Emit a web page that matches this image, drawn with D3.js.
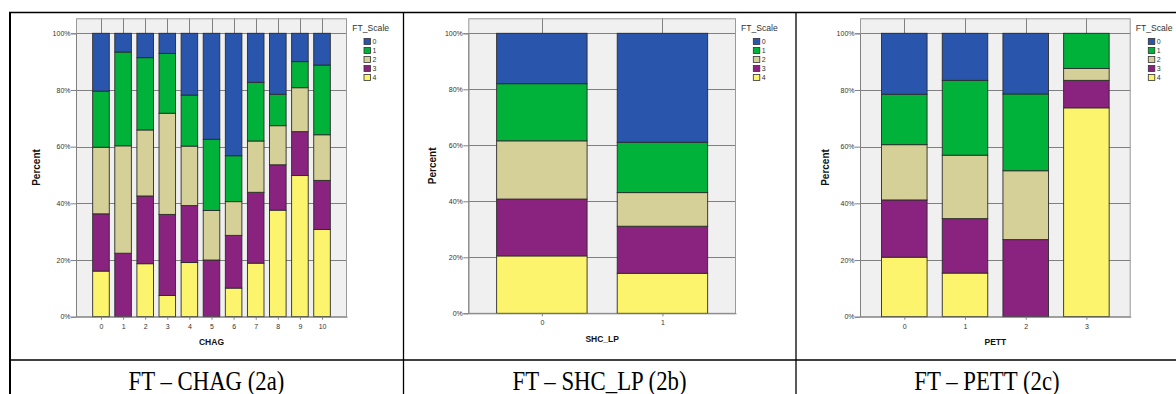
<!DOCTYPE html>
<html>
<head>
<meta charset="utf-8">
<script src="https://cdn.jsdelivr.net/npm/d3@7"></script>
<style>
  html, body { margin: 0; padding: 0; background: #fff; }
  svg { display: block; }
</style>
</head>
<body>
<svg id="chart" width="1176" height="394"></svg>
<script>
// ---------------- DATA ----------------
const scaleKeys = ["0", "1", "2", "3", "4"];
const yTicks = [0, 20, 40, 60, 80, 100];

const chagCats = ["0", "1", "2", "3", "4", "5", "6", "7", "8", "9", "10"];
const chagScale0 = [20.4, 6.6, 8.6, 7.1, 21.8, 37.4, 43.2, 17.3, 21.5, 10.0, 11.2];
const chagScale1 = [19.8, 33.1, 25.5, 21.1, 18.0, 25.1, 16.2, 20.7, 11.1, 9.2, 24.6];
const chagScale2 = [23.5, 37.9, 23.3, 35.7, 21.0, 17.5, 11.9, 18.1, 13.8, 15.5, 16.1];
const chagScale3 = [20.2, 22.4, 23.9, 28.6, 20.1, 20.0, 18.6, 25.0, 16.0, 15.5, 17.3];
const chagScale4 = [16.1, 0.0, 18.7, 7.5, 19.1, 0.0, 10.1, 18.9, 37.6, 49.8, 30.8];

const shcCats = ["0", "1"];
const shcScale0 = [18.0, 38.9];
const shcScale1 = [20.4, 18.0];
const shcScale2 = [20.8, 12.0];
const shcScale3 = [20.3, 16.8];
const shcScale4 = [20.5, 14.3];

const pettCats = ["0", "1", "2", "3"];
const pettScale0 = [21.5, 16.6, 21.4, 0.0];
const pettScale1 = [17.8, 26.4, 27.1, 12.4];
const pettScale2 = [19.5, 22.4, 24.3, 4.2];
const pettScale3 = [20.2, 19.2, 27.2, 9.7];
const pettScale4 = [21.0, 15.4, 0.0, 73.7];

const captions = ["FT \u2013 CHAG (2a)", "FT \u2013 SHC_LP (2b)", "FT \u2013 PETT (2c)"];
const xTitles = ["CHAG", "SHC_LP", "PETT"];
const legendTitle = "FT_Scale";

// ---------------- STYLE ----------------
const colors = { "0": "#2A55AD", "1": "#00B239", "2": "#D5CF98", "3": "#8A237F", "4": "#FBF46C" };
const plotBg = "#F0F0F0";
const gridColor = "#808080";
const sans = "'Liberation Sans', Arial, sans-serif";

function rows(cats, s0, s1, s2, s3, s4) {
  return cats.map((c, i) => ({ cat: c, "0": s0[i], "1": s1[i], "2": s2[i], "3": s3[i], "4": s4[i] }));
}

const panels = [
  { cats: chagCats, data: rows(chagCats, chagScale0, chagScale1, chagScale2, chagScale3, chagScale4),
    x0: 76, x1: 347, yTop: 18.3, y100: 33.3, y0: 316.7, pad: 1.13,
    tickBase: 329, titleBase: 345, percentX: 36.7, legX: 352.3, boxX: 364 },
  { cats: shcCats, data: rows(shcCats, shcScale0, shcScale1, shcScale2, shcScale3, shcScale4),
    x0: 468.3, x1: 736, yTop: 18.3, y100: 33.3, y0: 313.3, pad: 0.61,
    tickBase: 325.5, titleBase: 342, percentX: 432.5, legX: 741, boxX: 753.3 },
  { cats: pettCats, data: rows(pettCats, pettScale0, pettScale1, pettScale2, pettScale3, pettScale4),
    x0: 860, x1: 1130.7, yTop: 18.3, y100: 33.3, y0: 316.7, pad: 0.73,
    tickBase: 329, titleBase: 345, percentX: 825.3, legX: 1135.7, boxX: 1148.3 }
];

const svg = d3.select("#chart");
svg.append("rect").attr("width", 1176).attr("height", 394).attr("fill", "#fff");

const stackOrder = ["4", "3", "2", "1", "0"];
const stack = d3.stack().keys(stackOrder);

panels.forEach((p, pi) => {
  const g = svg.append("g");
  const x = d3.scalePoint().domain(p.cats).range([p.x0, p.x1]).padding(p.pad);
  const y = d3.scaleLinear().domain([0, 100]).range([p.y0, p.y100]);
  const bw = x.step() * 0.75;

  // plot background
  g.append("rect").attr("x", p.x0).attr("y", p.yTop)
    .attr("width", p.x1 - p.x0).attr("height", p.y0 - p.yTop)
    .attr("fill", plotBg);

  // horizontal gridlines
  g.selectAll(".hg").data(yTicks.filter(t => t > 0)).join("line")
    .attr("x1", p.x0).attr("x2", p.x1)
    .attr("y1", d => Math.round(y(d)) + 0.5).attr("y2", d => Math.round(y(d)) + 0.5)
    .attr("stroke", gridColor).attr("stroke-width", 1);
  // vertical gridlines at categories
  g.selectAll(".vg").data(p.cats).join("line")
    .attr("x1", d => Math.round(x(d)) + 0.5).attr("x2", d => Math.round(x(d)) + 0.5)
    .attr("y1", p.yTop).attr("y2", p.y0)
    .attr("stroke", gridColor).attr("stroke-width", 1);

  // frame
  g.append("rect").attr("x", p.x0 + 0.5).attr("y", p.yTop + 0.5)
    .attr("width", p.x1 - p.x0 - 1).attr("height", p.y0 - p.yTop - 0.5)
    .attr("fill", "none").attr("stroke", "#9a9a9a").attr("stroke-width", 1);

  // bars
  const series = stack(p.data);
  series.forEach(s => {
    g.selectAll(null).data(s.filter(d => d[1] - d[0] > 0)).join("rect")
      .attr("x", d => x(d.data.cat) - bw / 2)
      .attr("y", d => y(d[1]))
      .attr("width", bw)
      .attr("height", d => y(d[0]) - y(d[1]))
      .attr("fill", colors[s.key])
      .attr("stroke", "#2b2b2b").attr("stroke-width", 0.9);
  });

  // y axis
  const yAxis = d3.axisLeft(y).tickValues(yTicks).tickSize(5).tickFormat(d => d + "%");
  const ya = g.append("g").attr("transform", `translate(${p.x0},0)`).call(yAxis);
  ya.select(".domain").attr("stroke", gridColor);
  ya.selectAll(".tick line").attr("stroke", gridColor);
  ya.selectAll(".tick text").attr("font-family", sans).attr("font-size", 7).attr("fill", "#333").attr("x", -5.5);

  // x axis bottom line + ticks
  const xAxis = d3.axisBottom(x).tickSize(3).tickSizeOuter(0);
  const xa = g.append("g").attr("transform", `translate(0,${p.y0})`).call(xAxis);
  xa.select(".domain").attr("stroke", gridColor);
  xa.selectAll(".tick line").attr("stroke", gridColor);
  xa.selectAll(".tick text").attr("font-family", sans).attr("font-size", 7).attr("fill", "#333")
    .attr("dy", null).attr("y", p.tickBase - p.y0);

  // x title
  g.append("text").attr("x", (p.x0 + p.x1) / 2).attr("y", p.titleBase)
    .attr("text-anchor", "middle").attr("font-family", sans).attr("font-weight", "bold")
    .attr("font-size", 8.5).attr("fill", "#111").text(xTitles[pi]);

  // y title
  g.append("text")
    .attr("transform", `translate(${p.percentX},${(p.yTop + p.y0) / 2}) rotate(-90)`)
    .attr("text-anchor", "middle").attr("dy", "0.35em")
    .attr("font-family", sans).attr("font-weight", "bold").attr("font-size", 10).attr("fill", "#111")
    .text("Percent");

  // legend
  g.append("text").attr("x", p.legX).attr("y", 30.5)
    .attr("font-family", sans).attr("font-size", 8.6).attr("fill", "#333").text(legendTitle);
  const lg = g.selectAll(".leg").data(scaleKeys).join("g")
    .attr("transform", (d, i) => `translate(${p.boxX},${38.5 + i * 9})`);
  lg.append("rect").attr("width", 6.5).attr("height", 6)
    .attr("fill", d => colors[d]).attr("stroke", "#333").attr("stroke-width", 0.8);
  lg.append("text").attr("x", 8.5).attr("y", 5.8)
    .attr("font-family", sans).attr("font-size", 7).attr("fill", "#333").text(d => d);
});

// ---------------- TABLE LINES ----------------
const tl = svg.append("g").attr("stroke", "#000");
tl.append("line").attr("x1", 9).attr("x2", 1176).attr("y1", 12.5).attr("y2", 12.5).attr("stroke-width", 1.3);
tl.append("line").attr("x1", 10).attr("x2", 10).attr("y1", 12).attr("y2", 394).attr("stroke-width", 2);
tl.append("line").attr("x1", 403.5).attr("x2", 403.5).attr("y1", 12).attr("y2", 394).attr("stroke-width", 1.3);
tl.append("line").attr("x1", 796).attr("x2", 796).attr("y1", 12).attr("y2", 394).attr("stroke-width", 1.3);
tl.append("line").attr("x1", 9).attr("x2", 1176).attr("y1", 360).attr("y2", 360).attr("stroke-width", 1.3);

const capX = [206.5, 599.5, 987];
svg.selectAll(".cap").data(captions).join("text")
  .attr("transform", (d, i) => `translate(${capX[i]},390) scale(0.86,1)`)
  .attr("text-anchor", "middle")
  .attr("font-family", "'Liberation Serif', 'DejaVu Serif', serif")
  .attr("font-size", 26.5).attr("fill", "#000")
  .text(d => d);
</script>
</body>
</html>
